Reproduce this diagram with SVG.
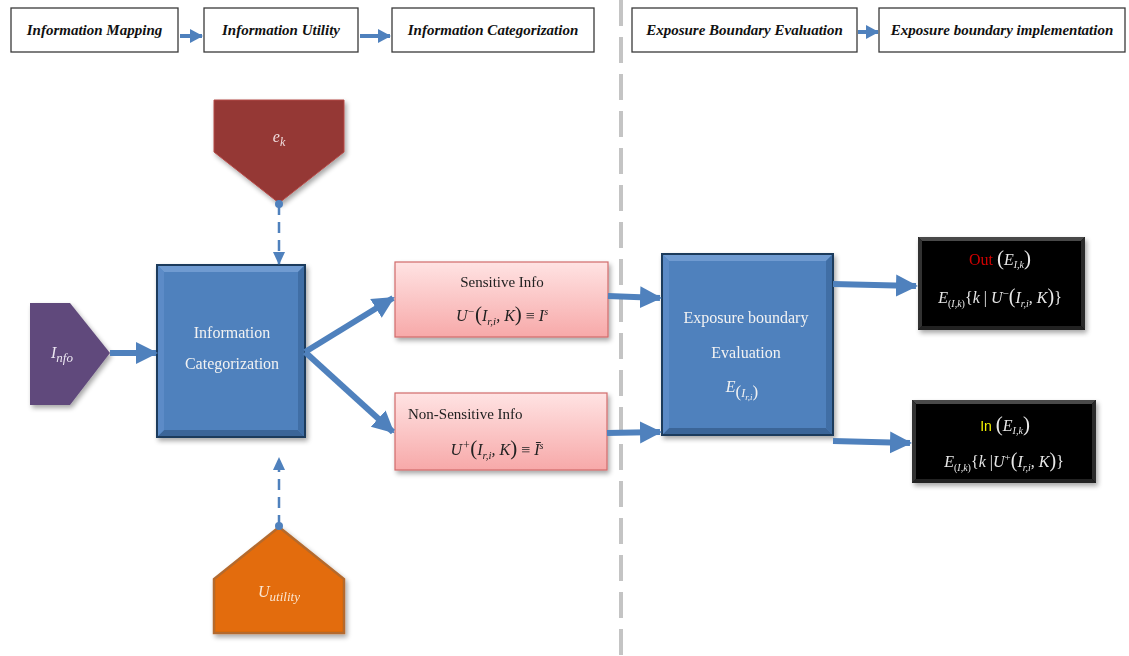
<svg xmlns="http://www.w3.org/2000/svg" width="1129" height="656" viewBox="0 0 1129 656">
  <defs>
    <style>
      .stage { fill: #ffffff; stroke: #3a3a3a; stroke-width: 1.3; }
      .stage-label { font-family: "Liberation Serif", serif; font-style: italic; font-weight: bold; font-size: 15px; fill: #111; text-anchor: middle; }
      .body { font-family: "Liberation Serif", serif; font-size: 15px; fill: #222; }
      .white { font-family: "Liberation Serif", serif; font-size: 16px; fill: #f2f2f2; text-anchor: middle; }
      .math { font-family: "Liberation Serif", serif; font-style: italic; font-size: 16px; }
      .flow { stroke: #4f81bd; stroke-width: 6; fill: none; }
      .flow-small { stroke: #4f81bd; stroke-width: 4; fill: none; }
      .dashed { stroke: #4f81bd; stroke-width: 2.5; fill: none; stroke-dasharray: 11 7; }
      .pink { fill: url(#pinkGrad); stroke: #d16b6b; stroke-width: 1.2; }
    </style>
    <linearGradient id="pinkGrad" x1="0" y1="0" x2="0" y2="1">
      <stop offset="0" stop-color="#ffe3e3"/>
      <stop offset="1" stop-color="#f7a9a9"/>
    </linearGradient>
    <filter id="shadow" x="-10%" y="-10%" width="125%" height="125%">
      <feGaussianBlur in="SourceAlpha" stdDeviation="2.5"/>
      <feOffset dx="2" dy="3" result="b"/>
      <feComponentTransfer><feFuncA type="linear" slope="0.35"/></feComponentTransfer>
      <feMerge><feMergeNode/><feMergeNode in="SourceGraphic"/></feMerge>
    </filter>
    <marker id="headBig" markerUnits="userSpaceOnUse" markerWidth="24" markerHeight="24" refX="20" refY="12" orient="auto">
      <path d="M0,1 L22,12 L0,23 Z" fill="#4f81bd"/>
    </marker>
    <marker id="headSmall" markerUnits="userSpaceOnUse" markerWidth="14" markerHeight="14" refX="12" refY="7" orient="auto">
      <path d="M0,0 L13,7 L0,14 Z" fill="#4f81bd"/>
    </marker>
    <marker id="headDash" markerUnits="userSpaceOnUse" markerWidth="14" markerHeight="14" refX="12" refY="7" orient="auto">
      <path d="M0,1 L13,7 L0,13 Z" fill="#4f81bd"/>
    </marker>
    <marker id="dot" markerUnits="userSpaceOnUse" markerWidth="10" markerHeight="10" refX="5" refY="5">
      <circle cx="5" cy="5" r="4" fill="#4f81bd"/>
    </marker>
  </defs>

  <rect width="1129" height="656" fill="#ffffff"/>

  <!-- divider between categorization and exposure stages -->
  <line x1="621" y1="0" x2="621" y2="656" stroke="#c4c4c4" stroke-width="4" stroke-dasharray="26 11"/>

  <!-- stage header row -->
  <g id="stage-mapping">
    <rect class="stage" x="11" y="8" width="167" height="44"/>
    <text class="stage-label" x="94.5" y="35">Information Mapping</text>
  </g>
  <g id="stage-utility">
    <rect class="stage" x="204" y="8" width="154" height="44"/>
    <text class="stage-label" x="281" y="35">Information Utility</text>
  </g>
  <g id="stage-categorization">
    <rect class="stage" x="392" y="8" width="202" height="44"/>
    <text class="stage-label" x="493" y="35">Information Categorization</text>
  </g>
  <g id="stage-evaluation">
    <rect class="stage" x="632" y="8" width="225" height="44"/>
    <text class="stage-label" x="744.5" y="35">Exposure Boundary Evaluation</text>
  </g>
  <g id="stage-implementation">
    <rect class="stage" x="879" y="8" width="246" height="44"/>
    <text class="stage-label" x="1002" y="35">Exposure boundary implementation</text>
  </g>

  <!-- e_k input -->
  <g id="node-ek" filter="url(#shadow)">
    <polygon points="214,100 344,100 344,152 279,203 214,152" fill="#953735" stroke="#b44a47" stroke-width="1"/>
    <text class="math" x="279" y="142" text-anchor="middle" fill="#f0dede" font-size="18">e<tspan dy="4" font-size="12">k</tspan></text>
  </g>

  <!-- I_nfo input -->
  <g id="node-info" filter="url(#shadow)">
    <polygon points="30,303 70,303 110,353 70,405 30,405" fill="#604a7b"/>
    <text class="math" x="62" y="358" text-anchor="middle" fill="#ece6f2" font-size="18">I<tspan dy="4" font-size="13">nfo</tspan></text>
  </g>

  <!-- U_utility input -->
  <g id="node-utility" filter="url(#shadow)">
    <polygon points="279,527 344,579 344,633 214,633 214,579" fill="#e36c09" stroke="#b46a2e" stroke-width="2.5"/>
    <text class="math" x="279" y="597" text-anchor="middle" fill="#fbe6d4" font-size="18">U<tspan dy="4" font-size="13">utility</tspan></text>
  </g>

  <!-- categorization process -->
  <g id="node-categorization" filter="url(#shadow)">
    <rect x="157" y="265" width="148" height="172" fill="#4f81bd" stroke="#1f3a5c" stroke-width="2"/>
    <polygon points="158,266 304,266 298,272 164,272" fill="#6f9bd1"/>
    <polygon points="158,436 304,436 298,430 164,430" fill="#3b6598"/>
    <polygon points="304,266 304,436 298,430 298,272" fill="#416ea5"/>
    <polygon points="158,266 158,436 164,430 164,272" fill="#5b8bc7"/>
    <text class="white" x="232" y="338">Information</text>
    <text class="white" x="232" y="369">Categorization</text>
  </g>

  <!-- sensitive branch -->
  <g id="node-sensitive" filter="url(#shadow)">
    <rect class="pink" x="395" y="262" width="213" height="75"/>
    <text class="body" x="502" y="287" text-anchor="middle">Sensitive Info</text>
    <text class="math" x="502" y="321" text-anchor="middle" fill="#222">U<tspan dy="-6" font-size="11">−</tspan><tspan dy="6" font-size="21" font-style="normal">(</tspan>I<tspan dy="4" font-size="11">r,i</tspan><tspan dy="-4">, K</tspan><tspan font-size="21" font-style="normal">)</tspan> <tspan font-style="normal">≡</tspan> I<tspan dy="-6" font-size="10">s</tspan></text>
  </g>

  <!-- non-sensitive branch -->
  <g id="node-nonsensitive" filter="url(#shadow)">
    <rect class="pink" x="395" y="393" width="212" height="77"/>
    <text class="body" x="408" y="419">Non-Sensitive Info</text>
    <text class="math" x="497" y="455" text-anchor="middle" fill="#222">U<tspan dy="-6" font-size="12">+</tspan><tspan dy="6" font-size="21" font-style="normal">(</tspan>I<tspan dy="4" font-size="11">r,i</tspan><tspan dy="-4">, K</tspan><tspan font-size="21" font-style="normal">)</tspan> <tspan font-style="normal">≡</tspan> Ī<tspan dy="-6" font-size="10">s</tspan></text>
  </g>

  <!-- exposure boundary evaluation -->
  <g id="node-evaluation" filter="url(#shadow)">
    <rect x="662" y="254" width="171" height="181" fill="#4f81bd" stroke="#1f3a5c" stroke-width="2"/>
    <polygon points="663,255 832,255 826,261 669,261" fill="#6f9bd1"/>
    <polygon points="663,434 832,434 826,428 669,428" fill="#3b6598"/>
    <polygon points="832,255 832,434 826,428 826,261" fill="#416ea5"/>
    <polygon points="663,255 663,434 669,428 669,261" fill="#5b8bc7"/>
    <text class="white" x="746" y="323">Exposure boundary</text>
    <text class="white" x="746" y="358">Evaluation</text>
    <text class="math" x="742" y="392" text-anchor="middle" fill="#f2f2f2" font-size="18">E<tspan dy="5" font-size="17" font-style="normal">(</tspan><tspan font-size="12">I</tspan><tspan dy="3" font-size="9">r,i</tspan><tspan dy="-3" font-size="17" font-style="normal">)</tspan></text>
  </g>

  <!-- exposed output -->
  <g id="node-out" filter="url(#shadow)">
    <rect x="918" y="237" width="167" height="93" fill="#000"/>
    <polygon points="918,237 1085,237 1081,241 922,241" fill="#4a4a4a"/>
    <polygon points="918,330 1085,330 1081,326 922,326" fill="#222"/>
    <polygon points="1085,237 1085,330 1081,326 1081,241" fill="#2a2a2a"/>
    <polygon points="918,237 918,330 922,326 922,241" fill="#333"/>
    <text x="1000" y="265" text-anchor="middle" font-family="Liberation Serif, serif" font-size="16" fill="#e8e8e8"><tspan fill="#d00000">Out</tspan> <tspan font-size="21">(</tspan><tspan font-style="italic">E</tspan><tspan dy="3" font-size="10" font-style="italic">I,k</tspan><tspan dy="-3" font-size="21">)</tspan></text>
    <text x="1000" y="303" text-anchor="middle" font-family="Liberation Serif, serif" font-size="16" fill="#e8e8e8"><tspan font-style="italic">E</tspan><tspan dy="4" font-size="10">(<tspan font-style="italic">I,k</tspan>)</tspan><tspan dy="-4">{<tspan font-style="italic">k</tspan> | <tspan font-style="italic">U</tspan></tspan><tspan dy="-6" font-size="11">−</tspan><tspan dy="6" font-size="20">(</tspan><tspan font-style="italic">I</tspan><tspan dy="4" font-size="10" font-style="italic">r,i</tspan><tspan dy="-4">, <tspan font-style="italic">K</tspan></tspan><tspan font-size="20">)</tspan>}</text>
  </g>

  <!-- retained output -->
  <g id="node-in" filter="url(#shadow)">
    <rect x="912" y="400" width="184" height="83" fill="#000"/>
    <polygon points="912,400 1096,400 1092,404 916,404" fill="#4a4a4a"/>
    <polygon points="912,483 1096,483 1092,479 916,479" fill="#222"/>
    <polygon points="1096,400 1096,483 1092,479 1092,404" fill="#2a2a2a"/>
    <polygon points="912,400 912,483 916,479 916,404" fill="#333"/>
    <text x="1005" y="431" text-anchor="middle" font-family="Liberation Serif, serif" font-size="16" fill="#e8e8e8"><tspan fill="#f2f200" font-family="Liberation Sans, sans-serif" font-size="14">In</tspan> <tspan font-size="21">(</tspan><tspan font-style="italic">E</tspan><tspan dy="3" font-size="10" font-style="italic">I,k</tspan><tspan dy="-3" font-size="21">)</tspan></text>
    <text x="1004" y="467" text-anchor="middle" font-family="Liberation Serif, serif" font-size="16" fill="#e8e8e8"><tspan font-style="italic">E</tspan><tspan dy="4" font-size="10">(<tspan font-style="italic">I,k</tspan>)</tspan><tspan dy="-4">{<tspan font-style="italic">k</tspan> |<tspan font-style="italic">U</tspan></tspan><tspan dy="-6" font-size="11">+</tspan><tspan dy="6" font-size="20">(</tspan><tspan font-style="italic">I</tspan><tspan dy="4" font-size="10" font-style="italic">r,i</tspan><tspan dy="-4">, <tspan font-style="italic">K</tspan></tspan><tspan font-size="20">)</tspan>}</text>
  </g>

  <!-- connectors -->
  <g id="connectors">
    <line class="flow-small" x1="180" y1="36" x2="202" y2="36" marker-end="url(#headSmall)"/>
    <line class="flow-small" x1="360" y1="36" x2="390" y2="36" marker-end="url(#headSmall)"/>
    <line class="flow-small" x1="858" y1="32" x2="878" y2="32" marker-end="url(#headSmall)"/>

    <line class="dashed" x1="279" y1="204" x2="279" y2="264" marker-start="url(#dot)" marker-end="url(#headDash)"/>
    <line class="dashed" x1="279" y1="526" x2="279" y2="458" marker-start="url(#dot)" marker-end="url(#headDash)"/>

    <line class="flow" x1="110" y1="353" x2="156" y2="353" marker-end="url(#headBig)"/>
    <line class="flow" x1="305" y1="352" x2="393" y2="298" marker-end="url(#headBig)"/>
    <line class="flow" x1="305" y1="352" x2="393" y2="432" marker-end="url(#headBig)"/>
    <line class="flow" x1="608" y1="296" x2="660" y2="298" marker-end="url(#headBig)"/>
    <line class="flow" x1="607" y1="433" x2="660" y2="432" marker-end="url(#headBig)"/>
    <line class="flow" x1="833" y1="284" x2="916" y2="286" marker-end="url(#headBig)"/>
    <line class="flow" x1="833" y1="441" x2="910" y2="443" marker-end="url(#headBig)"/>
  </g>
</svg>
